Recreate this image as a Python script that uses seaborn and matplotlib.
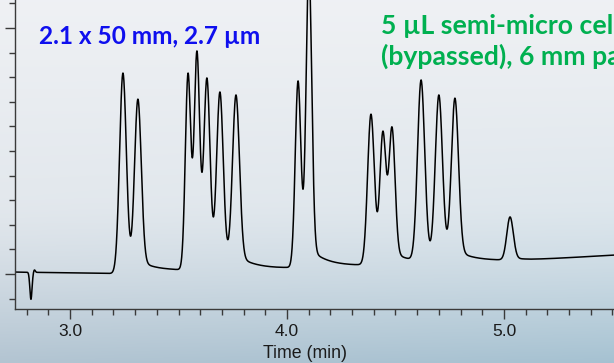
import numpy as np
import matplotlib
matplotlib.use("Agg")
import matplotlib.pyplot as plt
from matplotlib.ticker import MultipleLocator, NullFormatter
import seaborn as sns

# ---- data ----
peak_times = [3.244, 3.313, 3.544, 3.585, 3.631, 3.691, 3.765, 4.051, 4.101,
              4.387, 4.442, 4.484, 4.618, 4.700, 4.774, 5.028]
peak_heights = [8.17, 7.11, 8.17, 9.07, 7.97, 7.40, 7.28, 7.85, 12.5,
                6.50, 5.81, 5.98, 7.89, 7.28, 7.15, 2.32]
peak_sigmas = [0.0155, 0.0155, 0.0125, 0.0126, 0.0140, 0.0150, 0.0160, 0.0130, 0.0130,
               0.0155, 0.0140, 0.0140, 0.0165, 0.0165, 0.0165, 0.0150]
baseline_times = [2.745, 3.20, 3.45, 3.95, 4.30, 4.55, 4.90, 5.12, 5.51]
baseline_levels = [0.08, 0.02, 0.12, 0.22, 0.32, 0.42, 0.52, 0.57, 0.77]
dip_times = [2.820, 2.836]
dip_heights = [-1.10, 0.10]
dip_sigmas = [0.005, 0.004]
tail_fraction = 0.05
tail_tau = 0.08
x_ticks = [3.0, 4.0, 5.0]
x_ticklabels = ["3.0", "4.0", "5.0"]
x_label = "Time (min)"
label_column = "2.1 x 50 mm, 2.7 µm"
label_cell_1 = "5 µL semi-micro cell"
label_cell_2 = "(bypassed), 6 mm path"

# ---- build signal ----
t = np.linspace(2.745, 5.51, 4000)


def shape(x, t0, s):
    g = np.exp(-0.5 * ((x - t0) / s) ** 2)
    tail = np.where(x > t0, np.exp(-(x - t0) / tail_tau), 0.0)
    return np.where(x > t0, (1 - tail_fraction) * g + tail_fraction * tail, g)


base = np.interp(t, baseline_times, baseline_levels)
pt = np.array(peak_times)
M = np.array([[shape(np.array([ti]), tj, sj)[0] for tj, sj in zip(peak_times, peak_sigmas)]
              for ti in peak_times])
target = np.array(peak_heights) - np.interp(pt, baseline_times, baseline_levels)
amps = np.linalg.solve(M, target)

signal = base.copy()
for a, t0, s in zip(amps, peak_times, peak_sigmas):
    signal += a * shape(t, t0, s)
for a, t0, s in zip(dip_heights, dip_times, dip_sigmas):
    signal += a * np.exp(-0.5 * ((t - t0) / s) ** 2)

# ---- figure ----
sns.set_theme(style="ticks")
plt.rcParams["font.family"] = ["Liberation Sans", "DejaVu Sans"]

W, H = 614, 363
fig = plt.figure(figsize=(W / 100, H / 100), dpi=100)

# gradient background
bg = fig.add_axes([0, 0, 1, 1], zorder=-10)
bg.axis("off")
ny, nx = 200, 200
yy = np.linspace(0, 1, ny)[:, None]
xx = np.linspace(0, 1, nx)[None, :]
top = np.array([0.937, 0.945, 0.957])
mid = np.array([0.890, 0.910, 0.930])
bot = np.array([0.700, 0.770, 0.822])
img = np.zeros((ny, nx, 3))
for c in range(3):
    v = np.where(yy < 0.55, top[c] + (mid[c] - top[c]) * (yy / 0.55),
                 mid[c] + (bot[c] - mid[c]) * ((yy - 0.55) / 0.45) ** 1.3)
    img[:, :, c] = v + 0 * xx
img[:, :, 0] -= 0.05 * (yy ** 2) * xx
img[:, :, 1] -= 0.01 * (yy ** 2) * xx
img = np.clip(img, 0, 1)
bg.imshow(img, aspect="auto", extent=[0, 1, 0, 1], origin="upper")

left_px, right_px, bottom_px = 15, 614, 309
ax = fig.add_axes([left_px / W, (H - bottom_px) / H, (right_px - left_px) / W, bottom_px / H])
ax.set_facecolor("none")

sns.lineplot(x=t, y=signal, ax=ax, color="black", linewidth=1.1, estimator=None, sort=False)

ax.set_xlim(2.7465, 5.507)
ax.set_ylim(-1.423, 11.14)

for side in ["top", "right"]:
    ax.spines[side].set_visible(False)
for side in ["left", "bottom"]:
    ax.spines[side].set_color("#3a3a3a")
    ax.spines[side].set_linewidth(1.0)

ax.set_xticks(x_ticks)
ax.set_xticklabels(x_ticklabels)
ax.xaxis.set_minor_locator(MultipleLocator(0.1))
ax.set_yticks([0, 10])
ax.yaxis.set_minor_locator(MultipleLocator(1))
ax.yaxis.set_major_formatter(NullFormatter())
ax.tick_params(axis="both", which="major", length=7, width=1.0, color="#3a3a3a",
               direction="out", labelsize=12.5, labelcolor="#1a1a1a", pad=3.5)
ax.tick_params(axis="both", which="minor", length=4, width=1.0, color="#3a3a3a", direction="out")
ax.set_xlabel("")
ax.set_ylabel("")

fig.text(305 / W, 1 - 358 / H, x_label, ha="center", va="baseline", fontsize=12.8, color="#1a1a1a")

fam = ["Lato", "DejaVu Sans"]
fig.text(39 / W, 1 - 44 / H, label_column, ha="left", va="baseline", fontsize=17.6,
         fontweight="bold", color="#0f0fee", family=fam)
fig.text(381 / W, 1 - 34 / H, label_cell_1, ha="left", va="baseline", fontsize=19.2,
         fontweight="bold", color="#00b050", family=fam)
fig.text(381 / W, 1 - 65 / H, label_cell_2, ha="left", va="baseline", fontsize=19.2,
         fontweight="bold", color="#00b050", family=fam)

fig.savefig("out.png", dpi=100)
